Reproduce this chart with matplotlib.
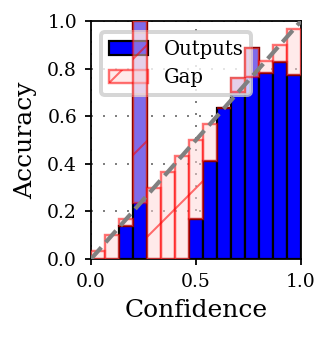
import numpy as np
import matplotlib
matplotlib.use("Agg")
import matplotlib.pyplot as plt

n_bins = 15
accuracy = [0.0, 0.0, 0.14, 1.0, 0.0, 0.0, 0.0, 0.17, 0.41, 0.635, 0.759, 0.885, 0.783, 0.829, 0.773]
x_ticks = [0.0, 0.5, 1.0]
y_ticks = [0.0, 0.2, 0.4, 0.6, 0.8, 1.0]
x_label = "Confidence"
y_label = "Accuracy"
labels = ["Outputs", "Gap"]

plt.rcParams['font.family'] = 'DejaVu Serif'
plt.rcParams['hatch.linewidth'] = 0.5

DPI = 288
fig = plt.figure(figsize=(332 / DPI, 338 / DPI), dpi=DPI)
ax = fig.add_axes([91 / 332, 1 - 259 / 338, 210 / 332, 238 / 338])

width = 1.0 / n_bins
centers = np.arange(n_bins) * width + width / 2
acc = np.array(accuracy)
conf = centers
low = np.minimum(acc, conf)
gap = np.abs(conf - acc)

ax.set_axisbelow(True)
ax.grid(True, color='gray', linestyle=(0, (1, 5)), linewidth=0.5)

out_bars = ax.bar(centers, acc, width=width, color='blue', edgecolor='black',
                  linewidth=0.55, zorder=2, label=labels[0])
gap_bars = ax.bar(centers, gap, bottom=low, width=width,
                  facecolor=(1, 0.84, 0.84, 0.5), edgecolor=(1, 0, 0, 0.55),
                  hatch='/', linewidth=0.6, zorder=6, label=labels[1])

ax.plot([0, 1], [0, 1], linestyle='--', color='gray', linewidth=1.05, zorder=7)

leg = ax.legend(handles=[out_bars, gap_bars], loc='upper left',
                bbox_to_anchor=(0.046, 0.955), borderaxespad=0, fontsize=4.9)
leg.set_zorder(5)

ax.set_xlim(0, 1)
ax.set_ylim(0, 1)
ax.set_xticks(x_ticks)
ax.set_yticks(y_ticks)
ax.set_xticklabels([f"{v:.1f}" for v in x_ticks])
ax.set_yticklabels([f"{v:.1f}" for v in y_ticks])
ax.tick_params(labelsize=4.7, length=1.5, width=0.45, pad=2.0)
for s in ax.spines.values():
    s.set_linewidth(0.45)
ax.set_xlabel(x_label, fontsize=6.25, labelpad=2.0)
ax.set_ylabel(y_label, fontsize=6.25, labelpad=2.5)

fig.savefig("out.png", dpi=DPI)
